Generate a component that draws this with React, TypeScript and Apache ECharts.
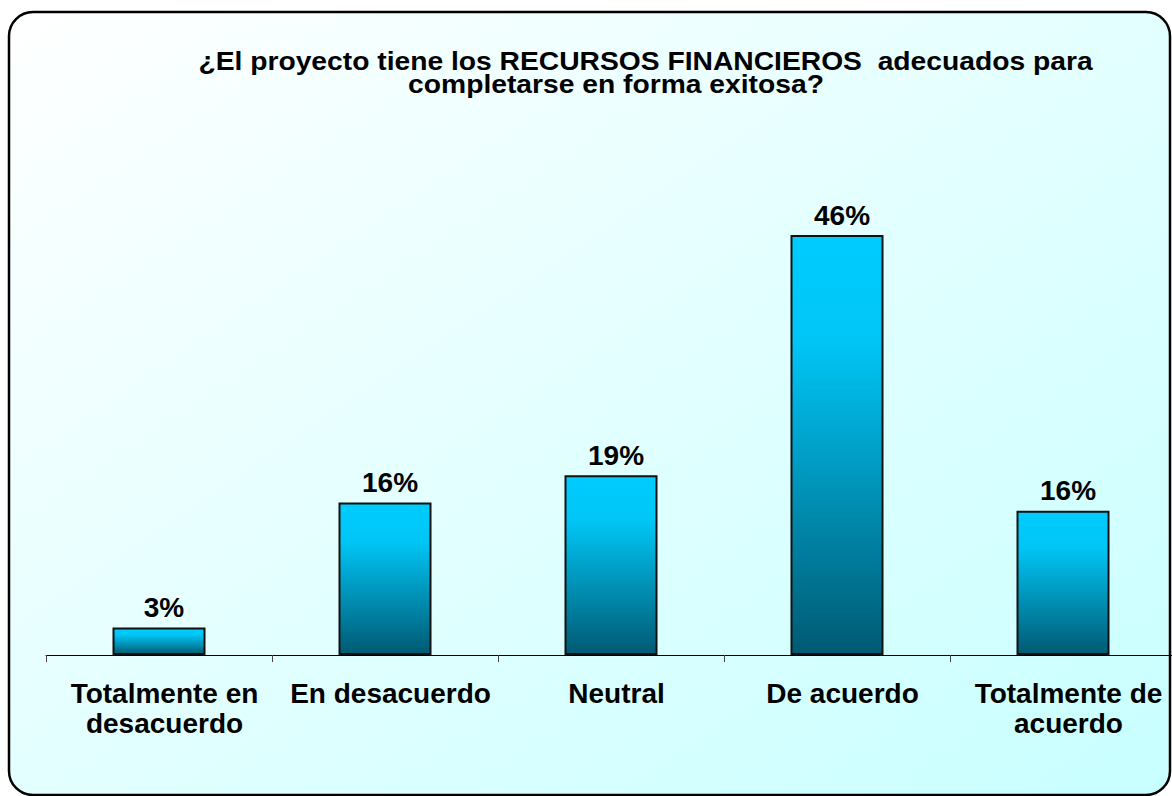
import React, { useEffect, useRef } from "react";
import * as echarts from "echarts";

const titleLines = [
  "¿El proyecto tiene los RECURSOS FINANCIEROS  adecuados para",
  "completarse en forma exitosa?",
];
const categories = [
  "Totalmente en\ndesacuerdo",
  "En desacuerdo",
  "Neutral",
  "De acuerdo",
  "Totalmente de\nacuerdo",
];
// bar heights (percent)
const values = [3.0, 16.7, 19.7, 46, 15.8];
// printed labels
const valueLabels = ["3%", "16%", "19%", "46%", "16%"];

export default function App() {
  const ref = useRef<HTMLDivElement>(null);
  useEffect(() => {
    if (!ref.current) return;
    const chart = echarts.init(ref.current, null, { renderer: "svg" });
    const font = "'Liberation Sans', Arial, sans-serif";
    chart.setOption({
      animation: false,
      backgroundColor: "#ffffff",
      graphic: [
        {
          type: "rect",
          z: -10,
          silent: true,
          shape: { x: 9, y: 12, width: 1161, height: 783, r: 24 },
          style: {
            fill: new echarts.graphic.LinearGradient(0, 0, 1, 1, [
              { offset: 0, color: "#FFFFFF" },
              { offset: 1, color: "#C8FFFF" },
            ]),
            stroke: "#000000",
            lineWidth: 2.5,
          },
        },
        {
          type: "text",
          x: 645.5,
          y: 61.5,
          scaleX: 1.13,
          style: {
            text: titleLines[0],
            fill: "#000",
            font: `bold 25px ${font}`,
            textAlign: "center",
            textVerticalAlign: "middle",
          },
        },
        {
          type: "text",
          x: 616,
          y: 85,
          scaleX: 1.13,
          style: {
            text: titleLines[1],
            fill: "#000",
            font: `bold 25px ${font}`,
            textAlign: "center",
            textVerticalAlign: "middle",
          },
        },
      ],
      grid: {
        left: 46,
        width: 1130,
        top: 235,
        height: 420,
        containLabel: false,
        outerBoundsMode: "none",
      },
      xAxis: {
        type: "category",
        data: categories,
        boundaryGap: true,
        axisLine: { show: true, lineStyle: { color: "#000", width: 1 } },
        axisTick: { show: true, length: 7, lineStyle: { color: "#444", width: 1 } },
        axisLabel: {
          interval: 0,
          hideOverlap: false,
          margin: 23,
          color: "#000",
          fontFamily: font,
          fontWeight: "bold",
          fontSize: 28,
          lineHeight: 30,
          padding: [0, 0, 0, 11],
        },
      },
      yAxis: {
        type: "value",
        min: 0,
        max: 46,
        show: false,
        splitLine: { show: false },
      },
      series: [
        {
          type: "bar",
          data: values,
          barWidth: 93,
          itemStyle: {
            color: new echarts.graphic.LinearGradient(0, 0, 0, 1, [
              { offset: 0, color: "#00CCFF" },
              { offset: 0.25, color: "#00C6F6" },
              { offset: 1, color: "#005A73" },
            ]),
            borderColor: "#111",
            borderWidth: 2,
          },
          label: {
            show: true,
            position: "top",
            distance: 6,
            color: "#000",
            fontFamily: font,
            fontWeight: "bold",
            fontSize: 28,
            padding: [0, 0, 0, 10],
            formatter: (p: any) => valueLabels[p.dataIndex],
          },
        },
      ],
    });
    return () => chart.dispose();
  }, []);
  return (
    <div
      ref={ref}
      style={{ position: "fixed", left: 0, top: 0, width: 1172, height: 796 }}
    />
  );
}
